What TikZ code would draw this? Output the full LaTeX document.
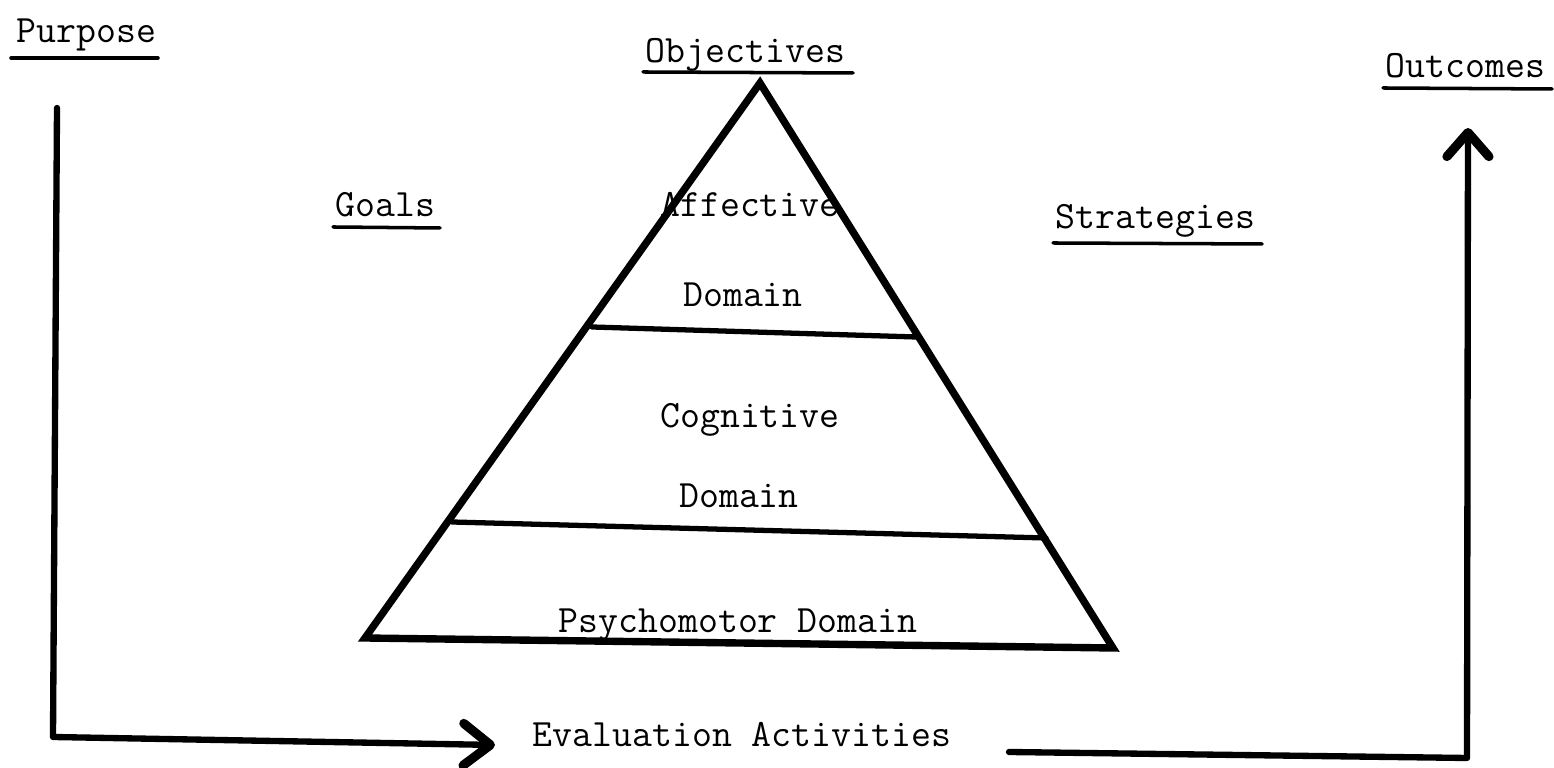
\documentclass[tikz,border=0pt]{standalone}
\usepackage{fontspec}
\usetikzlibrary{arrows.meta,calc}
\newcommand{\twfont}{\fontsize{11pt}{13pt}\ttfamily}
\tikzset{
  lbl/.style={inner sep=0pt, anchor=base west, font=\twfont},
  clbl/.style={inner sep=0pt, anchor=base, font=\twfont},
  ul/.style={line width=1pt, line cap=round},
  heavy/.style={line width=2.1pt, line cap=round, line join=miter},
  divider/.style={line width=1.5pt, line cap=round},
  conn/.style={line width=1.8pt, line cap=round, line join=round},
  chev/.style={-{Straight Barb[length=0.27cm, width=0.42cm, line width=2.6pt, round]}},
  upchev/.style={-{Straight Barb[length=0.24cm, width=0.42cm, line width=2.6pt, round]}},
}
\begin{document}
\begin{tikzpicture}[x=0.01cm, y=-0.01cm]
\useasboundingbox (0,0) rectangle (1554,768);

% labels
\node[lbl] (purpose) at (16,43) {Purpose};
\node[lbl] (objectives) at (645,63) {Objectives};
\node[lbl] (outcomes) at (1385,78) {Outcomes};
\node[lbl] (goals) at (335,217) {Goals};
\node[lbl] (strategies) at (1055,229) {Strategies};
\node[lbl] (eval) at (532,747) {Evaluation Activities};

% triangle labels
\node[clbl] (affective) at (750,217) {Affective};
\node[clbl] (dom1) at (743,307) {Domain};
\node[clbl] (cognitive) at (750,428) {Cognitive};
\node[clbl] (dom2) at (739,508) {Domain};
\node[clbl] (psycho) at (738,633) {Psychomotor Domain};

% underlines
\draw[ul] (11,58) -- (158,58);
\draw[ul] (643,72) -- (853,73);
\draw[ul] (1383,88) -- (1552,89);
\draw[ul] (333,227) -- (440,228);
\draw[ul] (1053,243) -- (1262,244);

% triangle
\coordinate (apex) at (760,83);
\coordinate (bl) at (365,638);
\coordinate (br) at (1113,648);
\draw[heavy] (apex) -- (bl) -- (br) -- cycle;
\draw[divider] (592,327) -- (916,337);
\draw[divider] (452,522) -- (1046,538);

% connectors
\coordinate (ptop) at (57,108);
\coordinate (pcorner) at (53,737);
\coordinate (etip) at (495,745);
\draw[conn, chev] (ptop) -- (pcorner) -- (etip);

\coordinate (estart) at (1009,752);
\coordinate (ocorner) at (1467,758);
\coordinate (otip) at (1468,128);
\draw[conn, upchev] (estart) -- (ocorner) -- (otip);
\end{tikzpicture}
\end{document}
